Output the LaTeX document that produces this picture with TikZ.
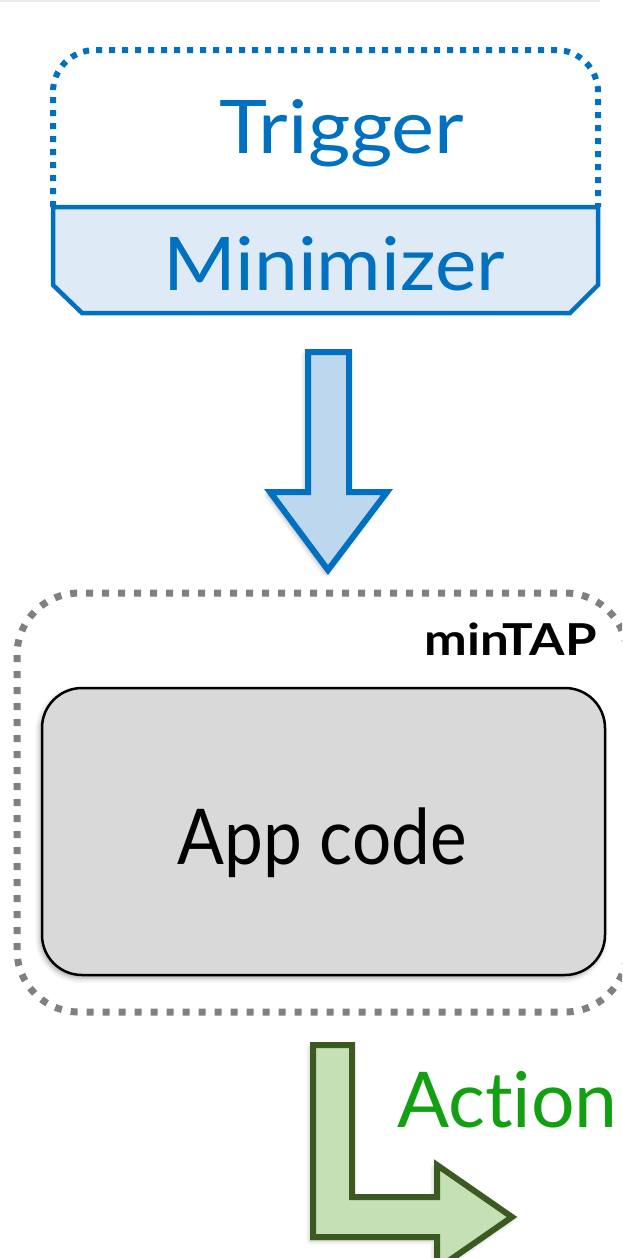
\documentclass[tikz,border=0pt]{standalone}
\usepackage{fontspec}
\setmainfont{Lato}[Ligatures={NoCommon}]
\usetikzlibrary{shadows.blur}
\definecolor{trigblue}{HTML}{0070C0}
\definecolor{minfill}{HTML}{DEEBF7}
\definecolor{arrowfill}{HTML}{BDD7EE}
\definecolor{tapgray}{HTML}{808080}
\definecolor{appfill}{HTML}{D9D9D9}
\definecolor{actgreen}{HTML}{12A012}
\definecolor{actline}{HTML}{3A5A22}
\definecolor{actfill}{HTML}{C5E0B4}
\tikzset{
  softshadow/.style={blur shadow={shadow xshift=-2pt,shadow yshift=-3pt,shadow blur radius=5pt,shadow opacity=35}},
  trigdots/.style={draw=trigblue,line width=6pt,dash pattern=on 6pt off 7pt,rounded corners=42pt},
  minbox/.style={draw=trigblue,fill=minfill,line width=4.5pt,line join=miter},
  bluetxt/.style={text=trigblue,font=\fontsize{74}{80}\selectfont,inner sep=0pt},
  downarrow/.style={draw=trigblue,fill=arrowfill,line width=6pt,line join=miter,softshadow},
  tapdots/.style={draw=tapgray,line width=7pt,dash pattern=on 7pt off 9pt,rounded corners=62pt},
  appbox/.style={draw=black,fill=appfill,line width=2.5pt,rounded corners=40pt,softshadow},
  apptxt/.style={font=\fontsize{77}{80}\selectfont,inner sep=0pt},
  taplabel/.style={font=\bfseries\fontsize{44}{48}\selectfont,inner sep=0pt},
  actarrow/.style={draw=actline,fill=actfill,line width=6pt,line join=miter,softshadow},
  acttxt/.style={text=actgreen,font=\fontsize{77}{80}\selectfont,inner sep=0pt},
}
\begin{document}
\begin{tikzpicture}[x=1pt,y=-1pt]
\useasboundingbox (0,0) rectangle (622,1258);
\clip (0,0) rectangle (622,1258);

% faint rule along the top edge
\draw[black!8,line width=2pt] (0,1) -- (600,1);

% trigger: dotted rounded outline above the minimizer band
\draw[trigdots] (53,207) -- (53,50) -- (598,50) -- (598,207);
\draw[minbox] (53,207) -- (598,207) -- (598,285) -- (570,313) -- (82,313) -- (53,285) -- cycle;
\node[bluetxt,anchor=base] (trig) at (342,153) {\scalebox{1.1}[1]{Trigger}};
\node[bluetxt,anchor=base] (mini) at (334,290) {\scalebox{1.06}[1]{Minimizer}};

% block arrow down into minTAP
\draw[downarrow] (308,352) -- (349,352) -- (349,492) -- (387,492) -- (328,570)
  -- (270,492) -- (308,492) -- cycle;

% minTAP container
\draw[tapdots] (17,593) rectangle (627,1012);
\node[taplabel,anchor=base east] (tap) at (597,655) {\scalebox{1.16}[1]{minTAP}};

% application code
\node[appbox,minimum width=563pt,minimum height=287pt] (app) at (323.5,831.5) {};
\node[apptxt,anchor=base] (apptext) at (322,864) {\scalebox{0.9}[1]{App code}};

% bent block arrow to the action
\draw[actarrow] (313,1045) -- (352,1045) -- (352,1197) -- (437,1197) -- (437,1165)
  -- (512,1217) -- (437,1269) -- (437,1237) -- (313,1237) -- cycle;
\node[acttxt,anchor=base west] (act) at (397,1127) {Action};
\end{tikzpicture}
\end{document}
